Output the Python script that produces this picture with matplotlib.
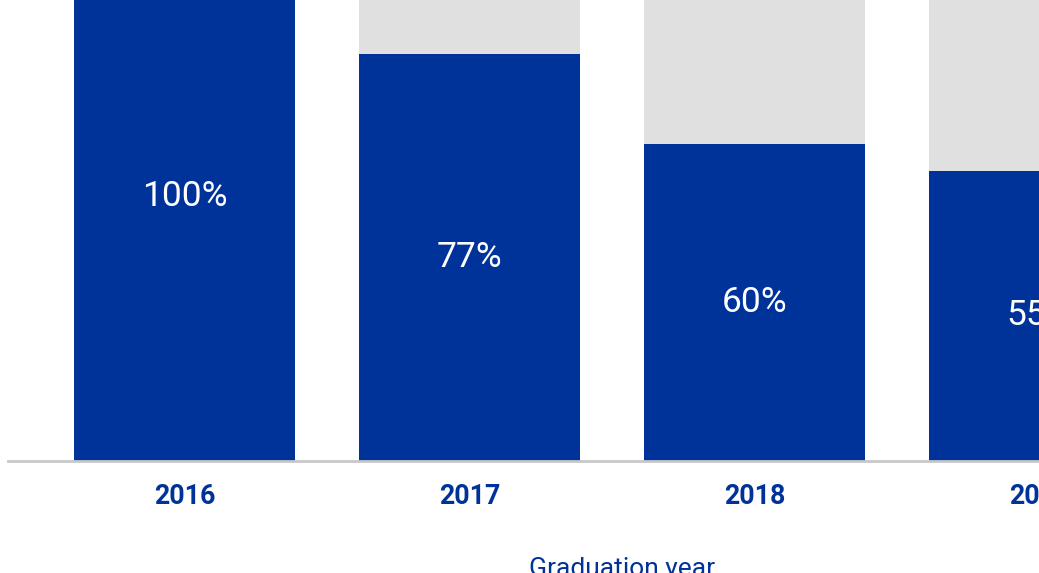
import matplotlib.pyplot as plt

plt.rcParams["font.family"] = ["Roboto", "DejaVu Sans"]

years = ["2016", "2017", "2018", "2019"]
share = [1.00, 0.77, 0.60, 0.55]
value_labels = ["100%", "77%", "60%", "55%"]

blue = "#003399"
grey = "#e0e0e0"

fig = plt.figure(figsize=(10.39, 5.73), dpi=100)
# axes run past the right/top edge, the picture is a crop of a wider chart
ax = fig.add_axes([8 / 1039, 112 / 573, 1228 / 1039, 528 / 573])

x = range(len(years))
ax.bar(x, [1.0] * len(years), width=0.775, color=grey, zorder=1)
ax.bar(x, share, width=0.775, color=blue, zorder=2)

for i, (v, lab) in enumerate(zip(share, value_labels)):
    ax.text(i, v / 2, lab, color="white", fontsize=25.5, ha="center", va="center", zorder=3)

ax.set_xlim(-0.619, 3.689)
ax.set_ylim(0, 1)
ax.set_yticks([])
ax.set_xticks(list(x))
ax.set_xticklabels(years, fontsize=19.3, fontweight="bold", color=blue)
ax.tick_params(axis="x", length=0, pad=16)
for s in ["top", "right", "left"]:
    ax.spines[s].set_visible(False)
ax.spines["bottom"].set_color("#c8c8c8")
ax.spines["bottom"].set_linewidth(2)
ax.spines["bottom"].set_zorder(4)
ax.set_xlabel("Graduation year", fontsize=19, color=blue, labelpad=34)

fig.savefig("out.png", dpi=100)
